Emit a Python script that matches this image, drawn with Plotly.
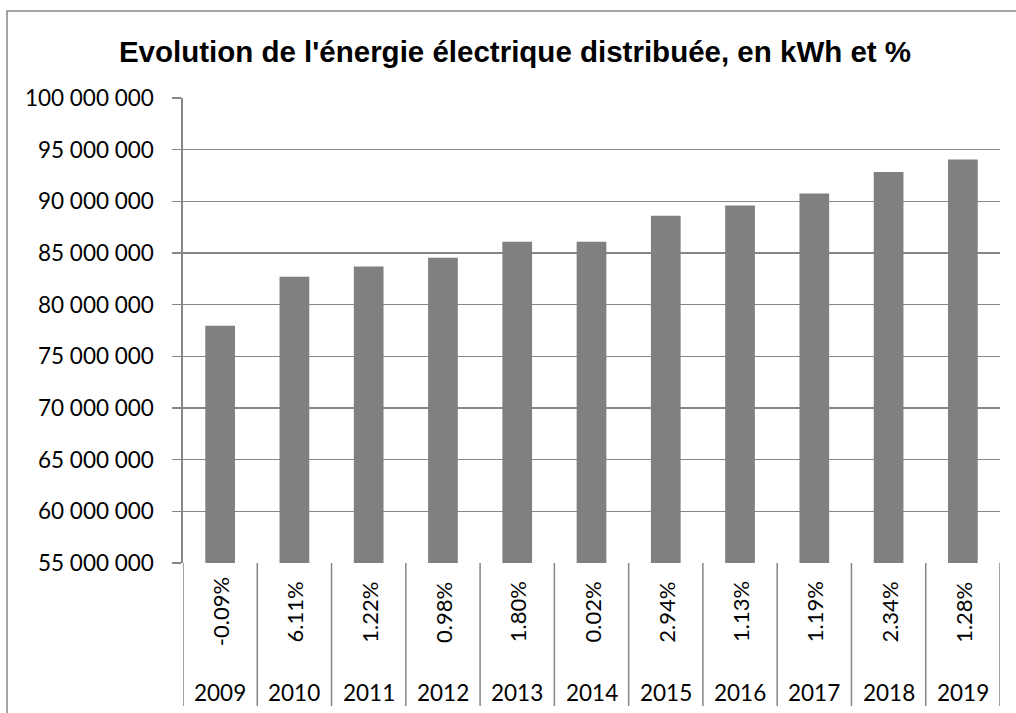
import plotly.graph_objects as go

years = ["2009", "2010", "2011", "2012", "2013", "2014", "2015", "2016", "2017", "2018", "2019"]
energy_kwh = [77950000, 82700000, 83700000, 84550000, 86100000, 86100000,
              88600000, 89600000, 90750000, 92850000, 94050000]
growth_labels = ["-0.09%", "6.11%", "1.22%", "0.98%", "1.80%", "0.02%",
                 "2.94%", "1.13%", "1.19%", "2.34%", "1.28%"]
title_text = "Evolution de l'énergie électrique distribuée, en kWh et %"

W, H = 1016, 713
L, R, T, B = 183, 16, 98, 150
pw, ph = W - L - R, H - T - B

def px_x(p):
    return (p - L) / pw

def px_y(p):
    return (H - B - p) / ph

GRID = "#868686"
FONT = "Lato, 'Open Sans', sans-serif"

fig = go.Figure(go.Bar(x=years, y=energy_kwh, marker=dict(color="#808080", line=dict(width=0)),
                       width=0.4))

shapes = []
n = len(years)
for i in range(n + 1):
    shapes.append(dict(type="line", xref="x", yref="paper", x0=i - 0.5, x1=i - 0.5,
                       y0=0, y1=px_y(706), line=dict(color=GRID, width=1.5)))
# outer chart border
shapes.append(dict(type="rect", xref="paper", yref="paper", x0=px_x(7), x1=px_x(1030),
                   y0=px_y(740), y1=px_y(11), line=dict(color=GRID, width=1.5),
                   fillcolor="rgba(0,0,0,0)", layer="below"))

annotations = []
for i, (yr, g) in enumerate(zip(years, growth_labels)):
    annotations.append(dict(x=i, xref="x", yref="paper", y=px_y(612), text=g, textangle=-90,
                            showarrow=False, font=dict(family=FONT, size=22, color="#000000"),
                            xanchor="center", yanchor="middle"))
    annotations.append(dict(x=i, xref="x", yref="paper", y=px_y(692), text=yr,
                            showarrow=False, font=dict(family=FONT, size=22.5, color="#000000"),
                            xanchor="center", yanchor="middle"))

fig.update_layout(
    width=W, height=H,
    margin=dict(l=L, r=R, t=T, b=B, pad=0),
    paper_bgcolor="white", plot_bgcolor="white",
    separators=". ",
    showlegend=False,
    title=dict(text="<b>" + title_text + "</b>", x=515 / W, xref="container", xanchor="center",
               y=1 - 52 / H, yref="container", yanchor="middle",
               font=dict(family="'Liberation Sans Narrow', 'Liberation Sans', Arial, sans-serif",
                         size=29.5, color="#000000")),
    xaxis=dict(type="category", showticklabels=False, showgrid=False, ticks="",
               showline=False, range=[-0.5, n - 0.5], fixedrange=True),
    yaxis=dict(range=[55000000, 100000000], dtick=5000000, tickformat=",d",
               showgrid=True, gridcolor=GRID, gridwidth=1.6,
               showline=True, linecolor=GRID, linewidth=1.6,
               ticks="outside", ticklen=9, tickcolor=GRID, tickwidth=1.6,
               ticklabelstandoff=14,
               tickfont=dict(family=FONT, size=22.5, color="#000000"),
               zeroline=False, fixedrange=True),
    shapes=shapes,
    annotations=annotations,
)

fig.write_html("out.html", config={"displayModeBar": False, "staticPlot": True},
               post_script="document.body.style.margin='0';")
